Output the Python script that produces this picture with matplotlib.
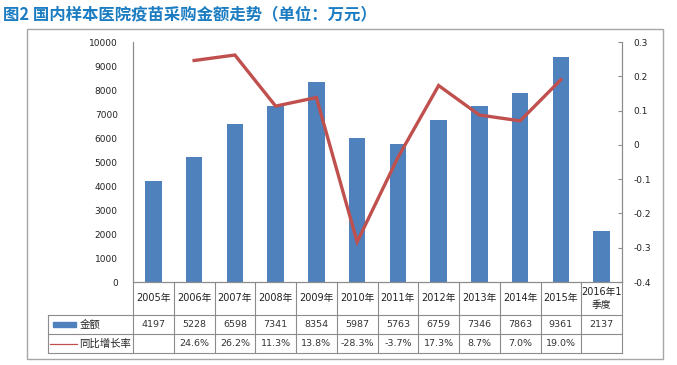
import matplotlib

matplotlib.use("Agg")

import matplotlib.pyplot as plt
from matplotlib.patches import Rectangle
from matplotlib.lines import Line2D

plt.rcParams["font.family"] = ["DejaVu Sans", "Noto Sans CJK SC"]

# data
years = ["2005年", "2006年", "2007年", "2008年", "2009年", "2010年",
         "2011年", "2012年", "2013年", "2014年", "2015年", "2016年1\n季度"]
amounts = [4197, 5228, 6598, 7341, 8354, 5987, 5763, 6759, 7346, 7863, 9361, 2137]
growth_pct = [None, 24.6, 26.2, 11.3, 13.8, -28.3, -3.7, 17.3, 8.7, 7.0, 19.0, None]

left_ticks = [0, 1000, 2000, 3000, 4000, 5000, 6000, 7000, 8000, 9000, 10000]
right_ticks = [-0.4, -0.3, -0.2, -0.1, 0, 0.1, 0.2, 0.3]

W, H = 677, 365
BAR = "#4f81bd"
LINE = "#c0504d"
GRID = "#8c8c8c"
TXT = "#222222"


def fx(px):
    return px / W


def fy(py):
    return 1 - py / H


fig = plt.figure(figsize=(W / 100, H / 100), dpi=100)
fig.patch.set_facecolor("white")

# outer frame
fig.patches.append(Rectangle((fx(27), fy(359)), fx(663) - fx(27), fy(29) - fy(359),
                             transform=fig.transFigure, fill=False,
                             edgecolor="#a6a6a6", linewidth=1.0))

fig.text(fx(3), fy(14), "图2 国内样本医院疫苗采购金额走势（单位：万元）",
         fontsize=11.8, fontweight="bold", color="#1b7cc2", va="center", ha="left",
         family=["Noto Sans CJK SC", "DejaVu Sans"])

ax_l, ax_r, ax_t, ax_b = 133, 622, 42, 282
ax = fig.add_axes([fx(ax_l), fy(ax_b), fx(ax_r) - fx(ax_l), fy(ax_t) - fy(ax_b)])
x = list(range(len(years)))
ax.bar(x, amounts, width=0.4, color=BAR)
ax.set_xlim(-0.5, len(years) - 0.5)
ax.set_ylim(0, 10000)
ax.set_yticks(left_ticks)
ax.set_xticks([])
ax.tick_params(axis="y", length=0, pad=11, labelsize=6.5, labelcolor=TXT)
ax.spines["top"].set_visible(False)
for s in ["left", "right", "bottom"]:
    ax.spines[s].set_color(GRID)
    ax.spines[s].set_linewidth(0.8)

ax2 = ax.twinx()
gx = [i for i, g in zip(x, growth_pct) if g is not None]
gy = [g / 100 for g in growth_pct if g is not None]
ax2.plot(gx, gy, color=LINE, linewidth=2.4, solid_joinstyle="miter")
ax2.set_ylim(-0.4, 0.3)
ax2.set_yticks(right_ticks)
ax2.set_yticklabels(["-0.4", "-0.3", "-0.2", "-0.1", "0", "0.1", "0.2", "0.3"])
ax2.tick_params(axis="y", direction="in", length=3, color=GRID, pad=8,
                labelsize=6.5, labelcolor=TXT)
ax2.spines["top"].set_visible(False)
for s in ["left", "right", "bottom"]:
    ax2.spines[s].set_color(GRID)
    ax2.spines[s].set_linewidth(0.8)

# data table under the plot
tb_l, tb_b = 48, 353
rows = [282, 315, 334, 353]
scale = len(years) / (ax_r - ax_l)
x_left = -0.5 - (ax_l - tb_l) * scale
tax = fig.add_axes([fx(tb_l), fy(tb_b), fx(ax_r) - fx(tb_l), fy(ax_b) - fy(tb_b)])
tax.set_xlim(x_left, len(years) - 0.5)
tax.set_ylim(rows[-1], rows[0])
tax.axis("off")

lw = 0.8
for k in range(len(years) + 1):
    tax.add_line(Line2D([k - 0.5, k - 0.5], [rows[0], rows[-1]], color=GRID, lw=lw,
                        clip_on=False))
tax.add_line(Line2D([x_left, x_left], [rows[1], rows[-1]], color=GRID, lw=lw, clip_on=False))
for r in rows[1:]:
    tax.add_line(Line2D([x_left, len(years) - 0.5], [r, r], color=GRID, lw=lw, clip_on=False))

for i, (yr, amt, g) in enumerate(zip(years, amounts, growth_pct)):
    tax.text(i, (rows[0] + rows[1]) / 2, yr, ha="center", va="center",
             fontsize=7, color=TXT, linespacing=1.3)
    tax.text(i, (rows[1] + rows[2]) / 2, str(amt), ha="center", va="center",
             fontsize=6.8, color="#333333")
    if g is not None:
        tax.text(i, (rows[2] + rows[3]) / 2, f"{g:.1f}%", ha="center", va="center",
                 fontsize=6.8, color="#333333")

# legend keys in the first column
px = lambda p: x_left + (p - tb_l) * scale
tax.add_patch(Rectangle((px(53), 322), px(76) - px(53), 5, color=BAR))
tax.add_line(Line2D([px(50), px(77)], [343.5, 343.5], color=LINE, lw=0.9))
tax.text(px(80), (rows[1] + rows[2]) / 2, "金额", ha="left", va="center",
         fontsize=7.5, color=TXT, family=["Noto Sans CJK SC"])
tax.text(px(79), (rows[2] + rows[3]) / 2, "同比增长率", ha="left", va="center",
         fontsize=7.5, color=TXT, family=["Noto Sans CJK SC"])

fig.savefig("out.png", dpi=100)
